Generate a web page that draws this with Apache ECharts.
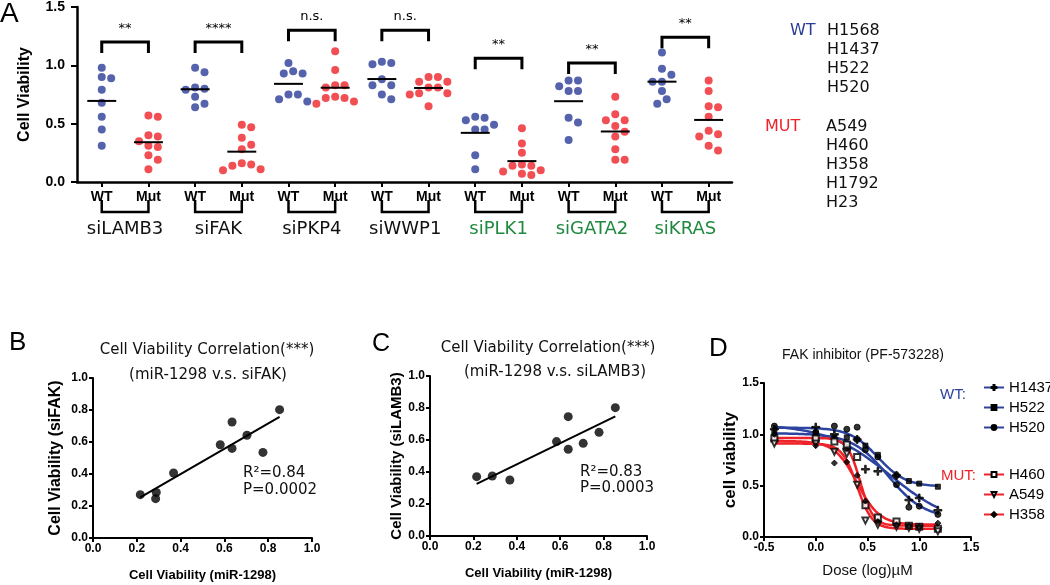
<!DOCTYPE html>
<html>
<head>
<meta charset="utf-8">
<script src="https://cdn.jsdelivr.net/npm/echarts@6/dist/echarts.min.js"></script>
<style>
  html, body { margin: 0; padding: 0; background: #fff; }
  #main { width: 1050px; height: 585px; }
</style>
</head>
<body>
<div id="main"></div>
<script>
// ---- panel A: viability after siRNA, WT vs KRAS-mutant lines ----
var genes = ['siLAMB3', 'siFAK', 'siPKP4', 'siWWP1', 'siPLK1', 'siGATA2', 'siKRAS'];
var wtVals = [
  [0.98, 0.90, 0.89, 0.79, 0.68, 0.56, 0.45, 0.31],
  [0.98, 0.94, 0.81, 0.80, 0.79, 0.73, 0.67, 0.64],
  [1.02, 0.95, 0.93, 0.93, 0.75, 0.75, 0.71, 0.69],
  [1.03, 1.02, 1.01, 0.88, 0.83, 0.83, 0.75, 0.71],
  [0.56, 0.55, 0.53, 0.49, 0.45, 0.45, 0.23, 0.11],
  [0.87, 0.87, 0.82, 0.78, 0.78, 0.55, 0.51, 0.36],
  [1.11, 0.97, 0.92, 0.86, 0.86, 0.78, 0.71, 0.67]
];
var mutVals = [
  [0.57, 0.56, 0.40, 0.39, 0.35, 0.31, 0.30, 0.23, 0.19, 0.11],
  [0.49, 0.47, 0.38, 0.32, 0.28, 0.16, 0.15, 0.14, 0.11, 0.10],
  [1.12, 0.96, 0.83, 0.83, 0.81, 0.73, 0.72, 0.72, 0.69, 0.67],
  [0.90, 0.90, 0.86, 0.86, 0.81, 0.81, 0.76, 0.76, 0.75, 0.65],
  [0.46, 0.33, 0.25, 0.15, 0.14, 0.14, 0.10, 0.09, 0.07, 0.06],
  [0.73, 0.58, 0.53, 0.53, 0.48, 0.43, 0.39, 0.28, 0.19, 0.19],
  [0.87, 0.78, 0.65, 0.64, 0.56, 0.44, 0.41, 0.39, 0.31, 0.27]
];
var sigLevel = [1.20, 1.20, 1.30, 1.30, 1.06, 1.02, 1.24];
var sigText = ['**', '****', 'n.s.', 'n.s.', '**', '**', '**'];
var wtLines = ['H1568', 'H1437', 'H522', 'H520'];
var mutLines = ['A549', 'H460', 'H358', 'H1792', 'H23'];

// ---- panels B, C: correlation with miR-1298 ----
var bMir = [0.216, 0.289, 0.286, 0.368, 0.581, 0.635, 0.635, 0.703, 0.776, 0.852];
var bFak = [0.271, 0.285, 0.246, 0.406, 0.583, 0.725, 0.560, 0.642, 0.535, 0.802];
var cMir = [0.215, 0.287, 0.368, 0.583, 0.637, 0.637, 0.706, 0.779, 0.854];
var cLamb = [0.371, 0.375, 0.350, 0.590, 0.746, 0.542, 0.579, 0.648, 0.802];
var bStats = ['R²=0.84', 'P=0.0002'];
var cStats = ['R²=0.83', 'P=0.0003'];

// ---- panel D: FAK inhibitor dose response ----
var doseLog = [-0.4, 0, 0.18, 0.3, 0.4, 0.48, 0.6, 0.78, 0.9, 1.0, 1.18];
var cellNames = ['H1437', 'H522', 'H520', 'H460', 'A549', 'H358'];
var respH1437 = [1.05, 1.07, 1.00, 0.86, 0.95, 0.66, 0.64, 0.60, 0.36, 0.38, 0.26];
var respH522 = [1.02, 1.01, 0.97, 0.97, 0.95, 0.89, 0.80, 0.60, 0.545, 0.52, 0.49];
var respH520 = [1.08, 1.02, 1.08, 1.05, 1.07, 0.85, 0.78, 0.51, 0.29, 0.30, 0.22];
var respH460 = [0.96, 0.96, 0.93, 0.90, 0.78, 0.31, 0.19, 0.15, 0.11, 0.10, 0.08];
var respA549 = [0.91, 0.91, 0.83, 0.81, 0.51, 0.16, 0.12, 0.10, 0.09, 0.08, 0.055];
var respH358 = [1.00, 0.89, 0.72, 0.73, 0.60, 0.35, 0.15, 0.12, 0.11, 0.10, 0.135];
// 4-parameter logistic fits
var fitTop = [1.10, 1.065, 1.01, 0.965, 0.91, 0.935];
var fitBottom = [0.10, 0.49, 0.18, 0.11, 0.08, 0.12];
var fitLogIC50 = [0.72, 0.60, 0.70, 0.43, 0.40, 0.40];
var fitHill = [1.4, 3.2, 2.5, 7, 6, 4];

var ARIAL = '"Liberation Sans", Arial, sans-serif';
var WIDE = '"DejaVu Sans", sans-serif';
var BLUE = '#2b3b97', RED = '#ee2329', GREEN = '#1f8a3f', DBLUE = '#2c44a0';

var chart = echarts.init(document.getElementById('main'));

// simple beeswarm so dots with close values sit side by side
var pxPerX = 655 / 14.03, pxPerY = 175 / 1.5;
function swarm(vals, center) {
  var placed = [];
  vals.slice().sort(function (a, b) { return b - a; }).forEach(function (v) {
    var off = 0;
    for (var n = 0; n < 30; n++) {
      off = n === 0 ? 0 : (n % 2 ? 1 : -1) * Math.ceil(n / 2) * 4.7;
      var ok = placed.every(function (p) {
        return Math.sqrt(Math.pow(p[0] - off, 2) + Math.pow((p[1] - v) * pxPerY, 2)) >= 8.8;
      });
      if (ok) break;
    }
    placed.push([off, v]);
  });
  return placed.map(function (p) { return [center + p[0] / pxPerX, p[1]]; });
}
function mean(a) { return a.reduce(function (s, v) { return s + v; }, 0) / a.length; }

var wtPts = [], mutPts = [], meanData = [], sigData = [], groupData = [];
genes.forEach(function (g, i) {
  wtPts = wtPts.concat(swarm(wtVals[i], 2 * i));
  mutPts = mutPts.concat(swarm(mutVals[i], 2 * i + 1));
  meanData.push([2 * i, mean(wtVals[i])]);
  meanData.push([2 * i + 1, mean(mutVals[i])]);
  sigData.push([2 * i, 2 * i + 1, sigLevel[i], i]);
  groupData.push([2 * i, 2 * i + 1, 0, i]);
});

function fitLine(xs, ys) {
  var mx = mean(xs), my = mean(ys), sxy = 0, sxx = 0;
  xs.forEach(function (x, i) { sxy += (x - mx) * (ys[i] - my); sxx += (x - mx) * (x - mx); });
  var b = sxy / sxx, a = my - b * mx;
  var x0 = Math.min.apply(null, xs), x1 = Math.max.apply(null, xs);
  return [[x0, a + b * x0], [x1, a + b * x1]];
}
function doseCurve(k) {
  var pts = [];
  for (var j = 0; j <= 79; j++) {
    var x = -0.4 + j * 0.02;
    pts.push([x, fitBottom[k] + (fitTop[k] - fitBottom[k]) / (1 + Math.pow(10, (x - fitLogIC50[k]) * fitHill[k]))]);
  }
  return pts;
}
function zip(xs, ys) { return xs.map(function (x, i) { return [x, ys[i]]; }); }

var axLine = { onZero: false, lineStyle: { color: '#000', width: 2 } };
var axTick = { show: true, inside: false, length: 4, lineStyle: { color: '#000', width: 2 } };
function axLabel(size, margin) {
  return { color: '#000', fontFamily: ARIAL, fontWeight: 'bold', fontSize: size, margin: margin,
    formatter: function (v) { return v.toFixed(1); } };
}
function valAxis(grid, min, max, step, extra) {
  return Object.assign({
    type: 'value', gridIndex: grid, min: min, max: max, interval: step,
    axisLine: axLine, axisTick: axTick, splitLine: { show: false },
    axisLabel: axLabel(12, 5), nameLocation: 'middle',
    nameTextStyle: { color: '#000', fontFamily: ARIAL, fontWeight: 'bold', fontSize: 13 }
  }, extra || {});
}

var tickIdx = [];
for (var t = 0; t < 14; t++) tickIdx.push(t);

var dSymbols = ['path://M4,0H6V4H10V6H6V10H4V6H0V4H4Z', 'rect', 'circle', 'emptyRect', 'emptyTriangle', 'diamond'];
var dSizes = [8, 5, 6, 6, 6, 6];
var dResp = [respH1437, respH522, respH520, respH460, respA549, respH358];

var series = [
  { type: 'scatter', xAxisIndex: 0, yAxisIndex: 0, data: wtPts, symbolSize: 8, itemStyle: { color: BLUE }, z: 3 },
  { type: 'scatter', xAxisIndex: 0, yAxisIndex: 0, data: mutPts, symbolSize: 8, itemStyle: { color: RED }, z: 3 },
  {
    type: 'custom', xAxisIndex: 0, yAxisIndex: 0, data: meanData, z: 4,
    renderItem: function (params, api) {
      var a = api.coord([api.value(0) - 0.31, api.value(1)]);
      var b = api.coord([api.value(0) + 0.31, api.value(1)]);
      return { type: 'line', shape: { x1: a[0], y1: a[1], x2: b[0], y2: b[1] }, style: { stroke: '#000', lineWidth: 2 } };
    }
  },
  {
    type: 'custom', xAxisIndex: 0, yAxisIndex: 0, data: sigData, z: 4, clip: false,
    renderItem: function (params, api) {
      var a = api.coord([api.value(0), api.value(2)]);
      var b = api.coord([api.value(1), api.value(2)]);
      return { type: 'group', children: [
        { type: 'polyline', shape: { points: [[a[0], a[1] + 11], a, b, [b[0], b[1] + 11]] },
          style: { stroke: '#000', lineWidth: 3, fill: null } },
        { type: 'text', style: { text: sigText[api.value(3)], x: (a[0] + b[0]) / 2, y: a[1] - 7,
          align: 'center', verticalAlign: 'bottom', font: '13px ' + WIDE, fill: '#000' } }
      ] };
    }
  },
  {
    type: 'custom', xAxisIndex: 0, yAxisIndex: 0, data: groupData, z: 4, clip: false,
    renderItem: function (params, api) {
      var a = api.coord([api.value(0), 0]);
      var b = api.coord([api.value(1), 0]);
      var gi = api.value(3);
      return { type: 'group', children: [
        { type: 'polyline', shape: { points: [[a[0], a[1] + 18], [a[0], a[1] + 30], [b[0], b[1] + 30], [b[0], b[1] + 18]] },
          style: { stroke: '#000', lineWidth: 2.5, fill: null } },
        { type: 'text', style: { text: genes[gi], x: (a[0] + b[0]) / 2, y: a[1] + 47,
          align: 'center', verticalAlign: 'middle', font: '18px ' + WIDE, fill: gi >= 4 ? GREEN : '#111' } }
      ] };
    }
  },
  { type: 'scatter', xAxisIndex: 1, yAxisIndex: 1, data: zip(bMir, bFak), symbolSize: 9, itemStyle: { color: '#000' } },
  { type: 'line', xAxisIndex: 1, yAxisIndex: 1, data: fitLine(bMir, bFak), symbol: 'none', lineStyle: { color: '#000', width: 2 } },
  { type: 'scatter', xAxisIndex: 2, yAxisIndex: 2, data: zip(cMir, cLamb), symbolSize: 9, itemStyle: { color: '#000' } },
  { type: 'line', xAxisIndex: 2, yAxisIndex: 2, data: fitLine(cMir, cLamb), symbol: 'none', lineStyle: { color: '#000', width: 2 } }
];

cellNames.forEach(function (name, k) {
  var col = k < 3 ? DBLUE : RED;
  series.push({
    type: 'line', name: name, xAxisIndex: 3, yAxisIndex: 3, data: doseCurve(k),
    showSymbol: false, symbol: dSymbols[k], symbolSize: dSizes[k], symbolRotate: k === 4 ? 180 : 0,
    lineStyle: { color: col, width: 2.5 }, itemStyle: { color: '#000', borderColor: '#000', borderWidth: 1 },
    z: 2
  });
  series.push({
    type: 'scatter', name: name + ' data', xAxisIndex: 3, yAxisIndex: 3, data: zip(doseLog, dResp[k]),
    symbol: dSymbols[k], symbolSize: dSizes[k], symbolRotate: k === 4 ? 180 : 0,
    itemStyle: { color: '#000', borderColor: '#000', borderWidth: 1 }, z: 3
  });
});

function T(text, x, y, font, fill, align) {
  return { type: 'text', x: x, y: y, style: { text: text, font: font, fill: fill || '#000',
    align: align || 'left', verticalAlign: 'middle' } };
}
var graphics = [
  T('A', 0, 14, '28px ' + ARIAL),
  T('B', 9, 343, '26px ' + ARIAL),
  T('C', 372, 344, '25px ' + ARIAL),
  T('D', 709, 349, '26px ' + ARIAL),
  T('Cell Viability Correlation(***)', 207, 350, '15px ' + WIDE, '#111', 'center'),
  T('(miR-1298 v.s. siFAK)', 208, 375, '15px ' + WIDE, '#111', 'center'),
  T('Cell Viability Correlation(***)', 548, 348, '15px ' + WIDE, '#111', 'center'),
  T('(miR-1298 v.s. siLAMB3)', 555, 372, '15px ' + WIDE, '#111', 'center'),
  T(bStats[0], 243, 473, '15px ' + WIDE, '#111'),
  T(bStats[1], 243, 490, '15px ' + WIDE, '#111'),
  T(cStats[0], 580, 472, '15px ' + WIDE, '#111'),
  T(cStats[1], 580, 488, '15px ' + WIDE, '#111'),
  T('FAK inhibitor (PF-573228)', 863, 355, '14px ' + ARIAL, '#111', 'center'),
  T('WT:', 940, 395, '15px ' + ARIAL, DBLUE),
  T('MUT:', 941, 476, '15px ' + ARIAL, RED),
  T('WT', 790, 31, '16px ' + WIDE, BLUE),
  T('MUT', 765, 127, '16px ' + WIDE, RED)
];
wtLines.forEach(function (s, i) { graphics.push(T(s, 827, 31 + i * 19, '16px ' + WIDE, '#111')); });
mutLines.forEach(function (s, i) { graphics.push(T(s, 826, 127 + i * 19, '16px ' + WIDE, '#111')); });

var legendBase = {
  orient: 'vertical', left: 983, itemWidth: 20, itemHeight: 6, itemGap: 5, padding: 0,
  selectedMode: false, textStyle: { color: '#000', fontFamily: ARIAL, fontSize: 15 }
};

chart.setOption({
  animation: false,
  backgroundColor: '#fff',
  grid: [
    { left: 77, top: 7, width: 655, height: 175 },
    { left: 93, top: 378, width: 219, height: 160 },
    { left: 430, top: 376, width: 217, height: 160 },
    { left: 764, top: 383, width: 207, height: 154 }
  ],
  xAxis: [
    {
      type: 'value', gridIndex: 0, min: -0.53, max: 13.5,
      axisLine: { onZero: false, lineStyle: { color: '#000', width: 2.5 } },
      axisTick: { show: true, length: 5, customValues: tickIdx, lineStyle: { color: '#000', width: 2 } },
      axisLabel: { customValues: tickIdx, color: '#000', fontFamily: ARIAL, fontWeight: 'bold', fontSize: 14, margin: 8,
        formatter: function (v) { return Math.round(v) % 2 ? 'Mut' : 'WT'; } },
      splitLine: { show: false }
    },
    valAxis(1, 0, 1, 0.2, { name: 'Cell Viability (miR-1298)', nameGap: 31 }),
    valAxis(2, 0, 1, 0.2, { name: 'Cell Viability (miR-1298)', nameGap: 31 }),
    valAxis(3, -0.5, 1.5, 0.5, { name: 'Dose (log)µM', nameGap: 26,
      nameTextStyle: { color: '#111', fontFamily: ARIAL, fontSize: 15 } })
  ],
  yAxis: [
    valAxis(0, 0, 1.5, 0.5, { name: 'Cell Viability', nameGap: 44,
      axisLine: { onZero: false, lineStyle: { color: '#000', width: 2.5 } },
      axisTick: { show: true, length: 6, lineStyle: { color: '#000', width: 2 } },
      axisLabel: axLabel(14, 12),
      nameTextStyle: { color: '#000', fontFamily: ARIAL, fontWeight: 'bold', fontSize: 16 } }),
    valAxis(1, 0, 1, 0.2, { name: 'Cell Viability (siFAK)', nameGap: 29,
      nameTextStyle: { color: '#000', fontFamily: ARIAL, fontWeight: 'bold', fontSize: 16 } }),
    valAxis(2, 0, 1, 0.2, { name: 'Cell Viability (siLAMB3)', nameGap: 24,
      nameTextStyle: { color: '#000', fontFamily: ARIAL, fontWeight: 'bold', fontSize: 15 } }),
    valAxis(3, 0, 1.5, 0.5, { name: 'cell viability', nameGap: 18,
      nameTextStyle: { color: '#000', fontFamily: ARIAL, fontWeight: 'bold', fontSize: 17 } })
  ],
  legend: [
    Object.assign({}, legendBase, { top: 380, data: cellNames.slice(0, 3) }),
    Object.assign({}, legendBase, { top: 467, data: cellNames.slice(3) })
  ],
  graphic: graphics,
  series: series
});
</script>
</body>
</html>
